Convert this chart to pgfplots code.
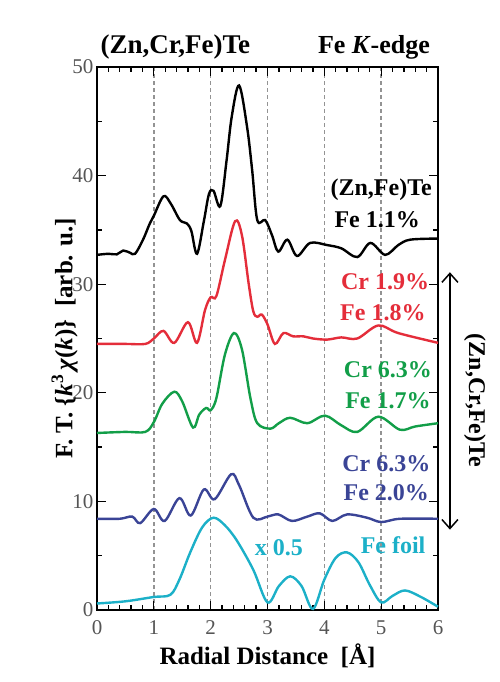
\documentclass[border=0pt]{standalone}
\usepackage{fontspec}
\setmainfont{Liberation Serif}
\usepackage{pgfplots}
\pgfplotsset{compat=1.18}
\usetikzlibrary{arrows.meta}
\definecolor{cred}{RGB}{228,45,58}
\definecolor{cgreen}{RGB}{18,158,72}
\definecolor{cblue}{RGB}{58,68,150}
\definecolor{ccyan}{RGB}{28,176,200}
\definecolor{ticktext}{RGB}{85,85,85}
\begin{document}
\begin{tikzpicture}
\path[use as bounding box] (-97pt,-72pt) rectangle (402pt,610pt);
\begin{axis}[at={(0pt,0pt)}, anchor=south west, scale only axis, width=341pt, height=543pt,
  xmin=0, xmax=6, ymin=0, ymax=50, clip=false,
  xtick={0,1,...,6}, ytick={0,10,...,50}, minor x tick num=4, minor y tick num=1,
  major tick length=9pt, minor tick length=5pt, tick style={black, line width=1.3pt},
  axis line style={line width=2pt}, xmajorgrids, grid style={gray!85, line width=1.4pt, dash pattern=on 4pt off 3pt},
  ticklabel style={font=\fontsize{21}{21}\selectfont, text=ticktext},
  xticklabel style={yshift=-7pt},
  /pgf/number format/assume math mode=true,
  xlabel={\bfseries Radial Distance~~[Å]}, ylabel={\bfseries F. T. \{\textit{k}\textsuperscript{3}\,\textit{χ}(\textit{k})\}~~[arb. u.]},
  label style={font=\fontsize{25}{25}\selectfont}, xlabel style={yshift=-2pt}, ylabel style={yshift=-12pt},
  every axis plot/.append style={line width=2.4pt, smooth, tension=0.55}]
\addplot[black] coordinates {(0,32.7) (0.2,32.8) (0.35,32.75) (0.46,33.1) (0.58,32.9) (0.67,32.8) (0.81,34.1) (0.93,35.6) (1.0,36.3) (1.17,38.1) (1.3,37.4) (1.46,35.9) (1.58,35.6) (1.66,34.9) (1.76,32.8) (1.88,35.8) (1.97,38.3) (2.05,38.6) (2.17,37.2) (2.28,41.4) (2.37,45.4) (2.5,48.3) (2.64,44.5) (2.73,40.5) (2.82,35.9) (2.96,35.9) (3.08,34.5) (3.19,33.0) (3.35,34.1) (3.52,32.6) (3.75,33.8) (4.05,33.6) (4.3,33.3) (4.58,32.5) (4.81,33.8) (5.07,32.7) (5.3,33.6) (5.51,34.1) (6.0,34.2)};
\addplot[cred] coordinates {(0,24.5) (0.5,24.5) (0.85,24.5) (1.0,25.0) (1.17,25.7) (1.36,24.6) (1.6,26.5) (1.76,24.6) (1.9,27.6) (2.0,28.8) (2.1,28.9) (2.25,32.2) (2.43,35.8) (2.55,34.5) (2.67,30.0) (2.75,27.5) (2.82,27.0) (2.9,27.2) (3.0,26.3) (3.13,24.5) (3.28,25.5) (3.45,25.2) (3.63,25.2) (3.8,25.0) (4.05,24.9) (4.3,25.1) (4.58,25.0) (4.95,26.2) (5.3,25.5) (6.0,24.6)};
\addplot[cgreen] coordinates {(0,16.3) (0.5,16.4) (0.85,16.4) (1.0,17.3) (1.15,19.0) (1.36,20.1) (1.5,19.2) (1.69,16.8) (1.8,18.0) (1.92,18.6) (2.0,18.4) (2.1,19.5) (2.25,23.5) (2.41,25.5) (2.55,24.0) (2.7,19.5) (2.82,17.2) (3.05,16.7) (3.2,17.2) (3.4,17.7) (3.7,17.2) (4.01,17.9) (4.3,17.0) (4.58,16.4) (4.95,17.8) (5.33,16.6) (5.6,16.9) (6.0,17.2)};
\addplot[cblue] coordinates {(0,8.4) (0.4,8.4) (0.62,8.6) (0.76,8.0) (1.0,9.3) (1.19,8.2) (1.45,10.3) (1.65,8.7) (1.88,11.1) (2.07,10.2) (2.36,12.5) (2.5,11.5) (2.75,8.5) (3.0,8.6) (3.19,8.8) (3.43,8.2) (3.7,8.6) (3.92,8.9) (4.14,8.2) (4.4,8.8) (4.75,8.5) (5.0,8.1) (5.33,8.4) (6.0,8.4)};
\addplot[ccyan] coordinates {(0,0.6) (0.5,0.8) (1.0,1.2) (1.29,1.4) (1.45,2.8) (1.64,5.3) (1.85,7.6) (2.05,8.5) (2.25,7.8) (2.46,6.4) (2.75,3.7) (3.0,0.7) (3.2,2.2) (3.4,3.1) (3.6,2.2) (3.8,0.1) (4.0,2.8) (4.2,4.8) (4.4,5.3) (4.6,4.4) (4.8,2.3) (5.0,0.7) (5.2,1.3) (5.42,1.8) (5.7,1.2) (6.0,0.3)};
\begin{scope}[every node/.style={font=\fontsize{24}{24}\selectfont\bfseries}]
\node[anchor=west, font=\fontsize{27}{27}\selectfont\bfseries] at (axis cs:0,51.8) {(Zn,Cr,Fe)Te};
\node[anchor=east, font=\fontsize{26}{26}\selectfont\bfseries] at (axis cs:5.92,51.8) {Fe \textit{K}-edge};
\node at (axis cs:5.0,38.7) {(Zn,Fe)Te};
\node at (axis cs:4.93,35.9) {Fe 1.1\%};
\node[text=cred] at (axis cs:5.07,30.2) {Cr 1.9\%};
\node[text=cred] at (axis cs:5.03,27.4) {Fe 1.8\%};
\node[text=cgreen] at (axis cs:5.12,22.1) {Cr 6.3\%};
\node[text=cgreen] at (axis cs:5.12,19.3) {Fe 1.7\%};
\node[text=cblue] at (axis cs:5.09,13.5) {Cr 6.3\%};
\node[text=cblue] at (axis cs:5.09,10.8) {Fe 2.0\%};
\node[text=ccyan] at (axis cs:5.21,6.0) {Fe foil};
\node[text=ccyan] at (axis cs:3.2,5.7) {x 0.5};
\node[rotate=-90] at (axis cs:6.65,19.3) {(Zn,Cr,Fe)Te};
\end{scope}
\draw[line width=1.5pt, {Straight Barb[length=9pt,width=16pt]}-{Straight Barb[length=9pt,width=16pt]}] (axis cs:6.21,31.1) -- (axis cs:6.21,7.4);
\end{axis}
\end{tikzpicture}
\end{document}
